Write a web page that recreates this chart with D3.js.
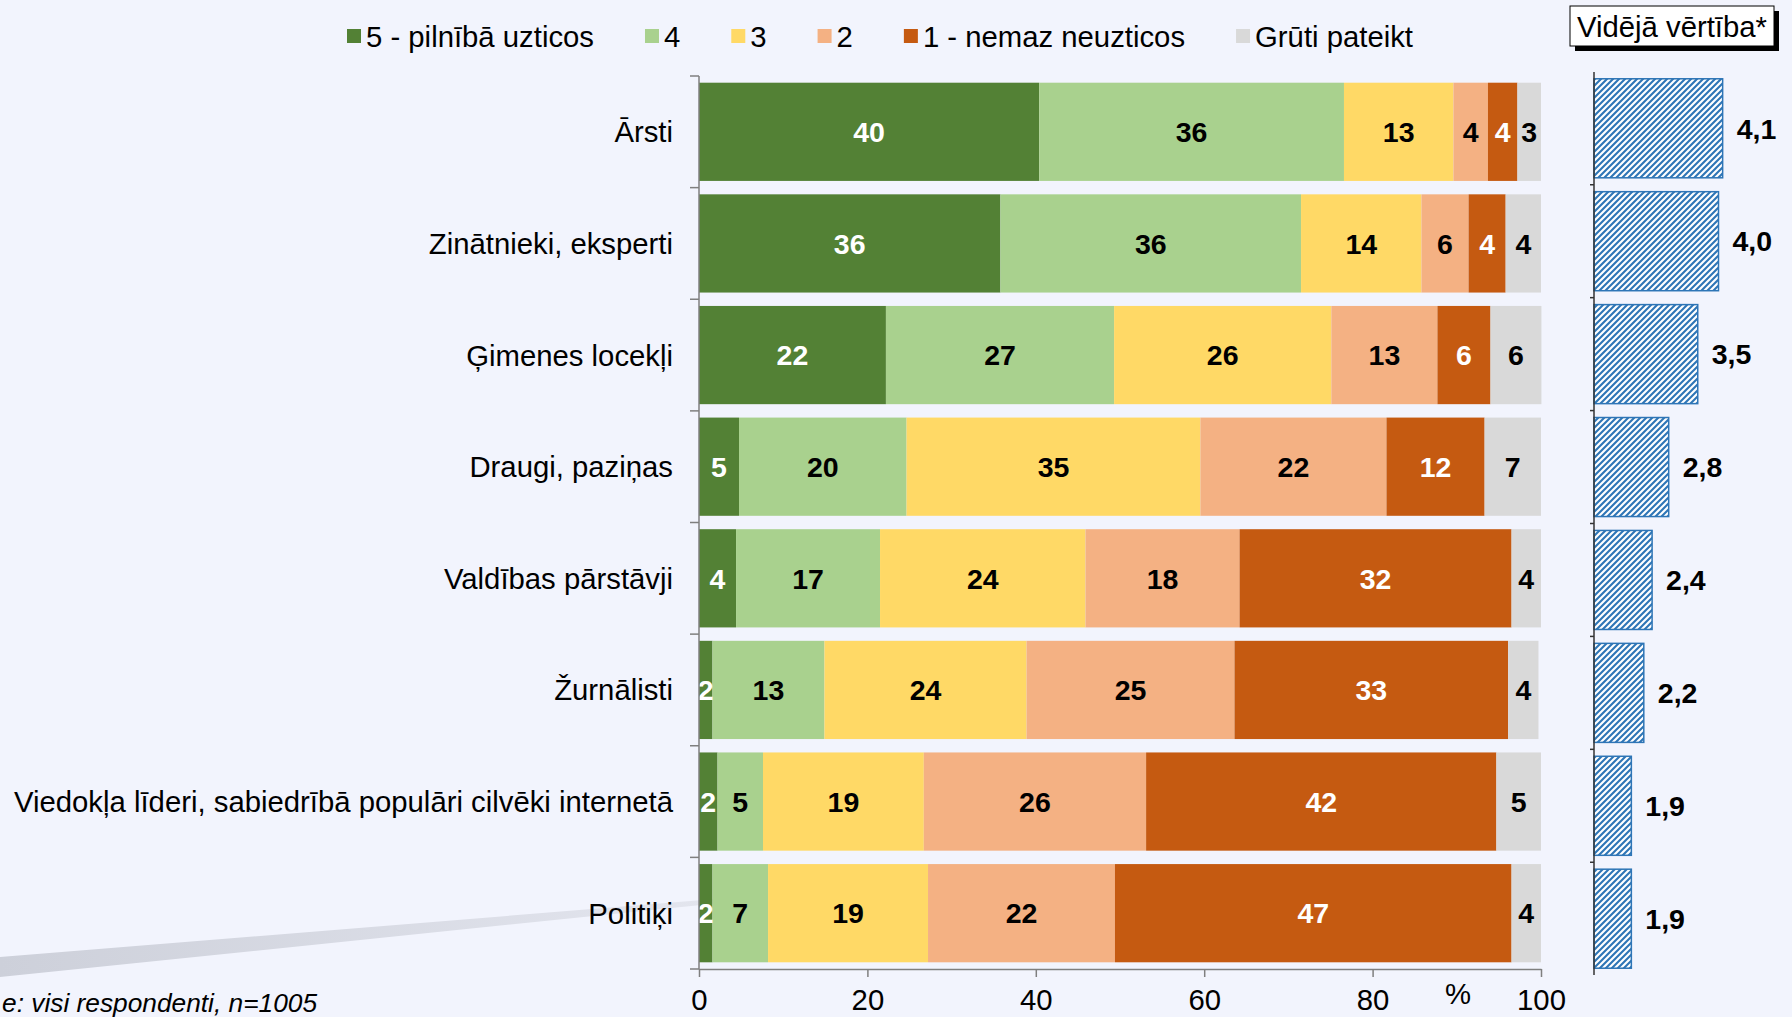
<!DOCTYPE html>
<html>
<head>
<meta charset="utf-8">
<script src="https://cdn.jsdelivr.net/npm/d3@7"></script>
<style>
  html, body { margin: 0; padding: 0; background: #F2F4FD; }
  svg { display: block; font-family: "Liberation Sans", Arial, sans-serif; }
</style>
</head>
<body>
<svg width="1792" height="1017"></svg>
<script>
const categories = ["Ārsti", "Zinātnieki, eksperti", "Ģimenes locekļi", "Draugi, paziņas",
  "Valdības pārstāvji", "Žurnālisti", "Viedokļa līderi, sabiedrībā populāri cilvēki internetā", "Politiķi"];
const seriesNames = ["5 - pilnībā uzticos", "4", "3", "2", "1 - nemaz neuzticos", "Grūti pateikt"];
const colors = ["#538135", "#A9D18E", "#FFD966", "#F4B183", "#C55A11", "#D9D9D9"];
const labelColors = ["#fff", "#000", "#000", "#000", "#fff", "#000"];

// percentages per answer, one value per category
const s5 = [40.4, 35.8, 22.2, 4.75, 4.4, 1.6, 2.2, 1.6];
const s4 = [36.2, 35.7, 27.1, 19.9, 17.1, 13.3, 5.4, 6.6];
const s3 = [13.0, 14.3, 25.8, 34.9, 24.4, 24.0, 19.1, 19.0];
const s2 = [4.1, 5.6, 12.6, 22.1, 18.3, 24.7, 26.4, 22.2];
const s1 = [3.5, 4.4, 6.3, 11.65, 32.3, 32.5, 41.6, 47.1];
const sDK = [2.8, 4.2, 6.05, 6.7, 3.5, 3.6, 5.3, 3.5];
const means = [4.1, 4.0, 3.5, 2.8, 2.4, 2.2, 1.9, 1.9];
const xTicks = [0, 20, 40, 60, 80, 100];

const svg = d3.select("svg");
const fs = 29.3;
const keys = ["s5", "s4", "s3", "s2", "s1", "sDK"];
const cols = [s5, s4, s3, s2, s1, sDK];
const rows = categories.map((c, i) => {
  const r = {cat: c};
  keys.forEach((k, j) => r[k] = cols[j][i]);
  return r;
});

// background shadow band
const defs = svg.append("defs");
const grad = defs.append("linearGradient").attr("id", "band")
  .attr("x1", "0").attr("x2", "1").attr("y1", "0").attr("y2", "0");
grad.append("stop").attr("offset", "0").attr("stop-color", "#cdd0da");
grad.append("stop").attr("offset", "1").attr("stop-color", "#e4e6ef");
svg.append("path")
  .attr("d", "M0,957 L740,897 L740,901 L0,977 Z")
  .attr("fill", "url(#band)");

// hatch pattern
const pat = defs.append("pattern").attr("id", "hatch")
  .attr("width", 6).attr("height", 6).attr("patternUnits", "userSpaceOnUse");
pat.append("rect").attr("width", 6).attr("height", 6).attr("fill", "#fff");
pat.append("path").attr("d", "M-1.5,1.5 L1.5,-1.5 M0,6 L6,0 M4.5,7.5 L7.5,4.5")
  .attr("stroke", "#2E75B6").attr("stroke-width", 2.1);

const x = d3.scaleLinear().domain([0, 100]).range([699, 1541]);
const y = d3.scaleBand().domain(categories).range([76, 969]).paddingInner(0.12).paddingOuter(0.06);

const stack = d3.stack().keys(keys)(rows);

const g = svg.append("g");
stack.forEach((layer, j) => {
  g.append("g").selectAll("rect").data(layer).join("rect")
    .attr("x", d => x(d[0]))
    .attr("y", d => y(d.data.cat))
    .attr("width", d => x(d[1]) - x(d[0]))
    .attr("height", y.bandwidth())
    .attr("fill", colors[j]);
});
stack.forEach((layer, j) => {
  g.append("g").selectAll("text").data(layer).join("text")
    .attr("x", d => (x(d[0]) + x(d[1])) / 2)
    .attr("y", d => y(d.data.cat) + y.bandwidth() / 2)
    .attr("dy", "0.36em")
    .attr("text-anchor", "middle")
    .attr("font-size", 28.5).attr("font-weight", "bold")
    .attr("fill", labelColors[j])
    .text(d => Math.round(d[1] - d[0]));
});

// left axis
const axisCol = "#7f7f7f";
const yAxis = svg.append("g");
yAxis.append("line").attr("x1", 699).attr("x2", 699).attr("y1", 76).attr("y2", 969)
  .attr("stroke", axisCol).attr("stroke-width", 1.5);
const bounds = categories.map(c => y(c) - y.step() * y.paddingInner() / 2).concat([969]);
bounds[0] = 76;
yAxis.selectAll(".tk").data(bounds).join("line")
  .attr("x1", 690).attr("x2", 699).attr("y1", d => d).attr("y2", d => d)
  .attr("stroke", axisCol).attr("stroke-width", 1.5);
yAxis.selectAll("text").data(categories).join("text")
  .attr("x", 673).attr("y", d => y(d) + y.bandwidth() / 2).attr("dy", "0.36em")
  .attr("text-anchor", "end").attr("font-size", fs).attr("fill", "#000")
  .text(d => d);

// bottom axis
const xAxis = svg.append("g").attr("transform", "translate(0,969)")
  .call(d3.axisBottom(x).tickValues(xTicks).tickSize(8).tickPadding(12).tickSizeOuter(0));
xAxis.select(".domain").attr("stroke", axisCol).attr("stroke-width", 1.5);
xAxis.selectAll(".tick line").attr("stroke", axisCol).attr("stroke-width", 1.5);
xAxis.selectAll(".tick text").attr("font-size", fs).attr("fill", "#000")
  .attr("font-family", "Liberation Sans, Arial, sans-serif");
svg.append("text").attr("x", 1458).attr("y", 1004).attr("text-anchor", "middle")
  .attr("font-size", fs).text("%");

// mean values chart
const xm = d3.scaleLinear().domain([1, 5]).range([1594, 1760]);
const ym = d3.scaleBand().domain(categories).range([72, 975]).paddingInner(0.123).paddingOuter(0.06);
svg.append("g").selectAll("rect").data(means).join("rect")
  .attr("x", xm(1))
  .attr("y", (d, i) => ym(categories[i]))
  .attr("width", d => xm(d) - xm(1))
  .attr("height", ym.bandwidth())
  .attr("fill", "url(#hatch)")
  .attr("stroke", "#2E75B6").attr("stroke-width", 1.5);
svg.append("g").selectAll("text").data(means).join("text")
  .attr("x", d => xm(d) + 14)
  .attr("y", (d, i) => ym(categories[i]) + ym.bandwidth() / 2)
  .attr("dy", "0.36em").attr("font-size", 28.5).attr("font-weight", "bold")
  .text(d => d3.format(".1f")(d).replace(".", ","));
svg.append("line").attr("x1", 1594).attr("x2", 1594).attr("y1", 72).attr("y2", 975)
  .attr("stroke", "#333").attr("stroke-width", 1.5);
const mBounds = categories.map(c => ym(c) - ym.step() * ym.paddingInner() / 2).slice(1);
svg.append("g").selectAll("line").data(mBounds).join("line")
  .attr("x1", 1590).attr("x2", 1594).attr("y1", d => d).attr("y2", d => d)
  .attr("stroke", "#333").attr("stroke-width", 1.5);

// legend
const leg = svg.append("g");
let lx = 347;
seriesNames.forEach((n, i) => {
  leg.append("rect").attr("x", lx).attr("y", 29).attr("width", 14).attr("height", 14).attr("fill", colors[i]);
  const t = leg.append("text").attr("x", lx + 19).attr("y", 36).attr("dy", "0.36em")
    .attr("font-size", fs).text(n);
  lx += 19 + t.node().getComputedTextLength() + 51;
});

// mean legend box
svg.append("rect").attr("x", 1575).attr("y", 11).attr("width", 204).attr("height", 40).attr("fill", "#000");
svg.append("rect").attr("x", 1570).attr("y", 6).attr("width", 204).attr("height", 40)
  .attr("fill", "#fff").attr("stroke", "#000").attr("stroke-width", 1);
svg.append("text").attr("x", 1672).attr("y", 26).attr("dy", "0.36em").attr("text-anchor", "middle")
  .attr("font-size", fs).text("Vidējā vērtība*");

// footnote
svg.append("text").attr("x", 2).attr("y", 1012).attr("font-size", 26.3).attr("font-style", "italic")
  .text("e: visi respondenti, n=1005");
</script>
</body>
</html>
